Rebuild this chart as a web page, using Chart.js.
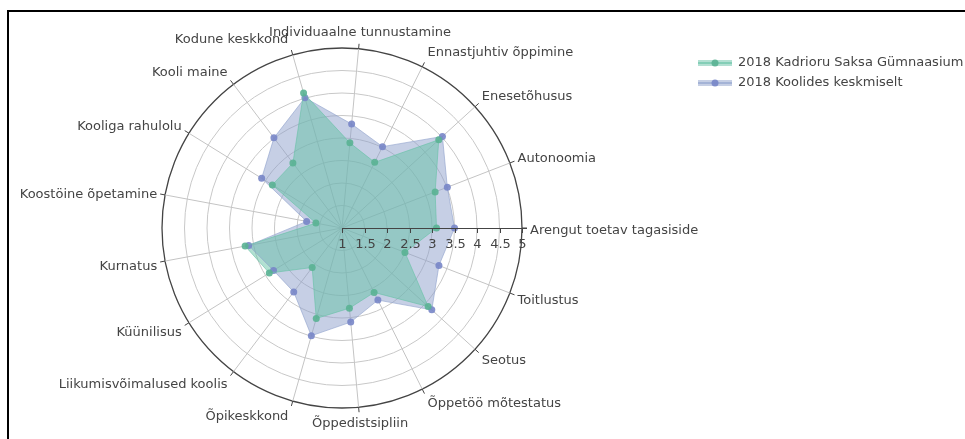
<!DOCTYPE html>
<html><head><meta charset="utf-8">
<script src="https://cdn.jsdelivr.net/npm/chart.js@4/dist/chart.umd.min.js"></script>
<style>html,body{margin:0;padding:0;background:#fff;} canvas{display:block;}</style>
</head><body>
<canvas id="c" width="965" height="439"></canvas>
<script>
// Categories in the reference order (counter-clockwise, starting at the east axis)
const categories = [
  'Arengut toetav tagasiside', 'Autonoomia', 'Enesetõhusus', 'Ennastjuhtiv õppimine',
  'Individuaalne tunnustamine', 'Kodune keskkond', 'Kooli maine', 'Kooliga rahulolu',
  'Koostöine õpetamine', 'Kurnatus', 'Küünilisus', 'Liikumisvõimalused koolis',
  'Õpikeskkond', 'Õppedistsipliin', 'Õppetöö mõtestatus', 'Seotus', 'Toitlustus'
];
const seriesNames = ['2018 Kadrioru Saksa Gümnaasium', '2018 Koolides keskmiselt'];
const schoolValues  = [3.10, 3.22, 3.91, 2.63, 2.90, 4.12, 2.81, 2.82, 1.59, 3.19, 2.90, 2.10, 3.09, 2.79, 2.60, 3.59, 2.50];
const averageValues = [3.50, 3.51, 4.02, 3.02, 3.32, 4.01, 3.51, 3.10, 1.80, 3.11, 2.79, 2.78, 3.49, 3.10, 2.79, 3.70, 3.31];
const radialTicks = ['1', '1.5', '2', '2.5', '3', '3.5', '4', '4.5', '5'];

// Chart.js goes clockwise; reorder so the drawing runs counter-clockwise like the reference
const idx = [0].concat(categories.map((_, i) => i).slice(1).reverse());
const labels = idx.map(i => categories[i]);
const school = idx.map(i => schoolValues[i]);
const average = idx.map(i => averageValues[i]);

const FONT = '13px "DejaVu Sans"';
const TXT = '#444';

const overlay = {
  id: 'overlay',
  afterDraw(chart) {
    const ctx = chart.ctx;
    const s = chart.scales.r;
    const R = s.drawingArea;
    const cx = s.xCenter, cy = s.yCenter;
    ctx.save();
    // radial axis line (east) with tick marks and labels
    ctx.strokeStyle = '#444';
    ctx.lineWidth = 1;
    ctx.beginPath();
    ctx.moveTo(cx, cy + 0.5);
    ctx.lineTo(cx + R + 5, cy + 0.5);
    ctx.stroke();
    ctx.font = FONT;
    ctx.fillStyle = TXT;
    ctx.textAlign = 'center';
    ctx.textBaseline = 'middle';
    radialTicks.forEach(t => {
      const v = parseFloat(t);
      const x = Math.round(cx + s.getDistanceFromCenterForValue(v)) + 0.5;
      ctx.beginPath();
      ctx.moveTo(x, cy);
      ctx.lineTo(x, cy + 5);
      ctx.stroke();
      ctx.fillText(t, x, cy + 17);
    });
    // outer angular ticks and category labels
    chart.data.labels.forEach((lab, i) => {
      const p0 = s.getPointPosition(i, R);
      const p = s.getPointPosition(i, R + 5);
      ctx.beginPath();
      ctx.moveTo(p0.x, p0.y);
      ctx.lineTo(p.x, p.y);
      ctx.stroke();
      const a = s.getIndexAngle(i) - Math.PI / 2;
      const c = Math.cos(a), sn = Math.sin(a);
      let x = p.x;
      if (c > 0.15) { ctx.textAlign = 'left'; x += 3; }
      else if (c < -0.15) { ctx.textAlign = 'right'; x -= 3; }
      else { ctx.textAlign = 'center'; x += 1; }
      const y = p.y + sn * 11 + 3 * (1 - Math.abs(sn));
      ctx.fillText(lab, x, y);
    });
    // legend
    ctx.textAlign = 'left';
    chart.data.datasets.forEach((ds, k) => {
      const y = 63 + k * 20;
      ctx.fillStyle = ds.backgroundColor;
      ctx.fillRect(698, y - 3, 34, 6);
      ctx.strokeStyle = ds.borderColor;
      ctx.lineWidth = 2;
      ctx.beginPath(); ctx.moveTo(698, y); ctx.lineTo(732, y); ctx.stroke();
      ctx.fillStyle = ds.pointBackgroundColor;
      ctx.beginPath(); ctx.arc(715, y, 3.5, 0, Math.PI * 2); ctx.fill();
      ctx.fillStyle = TXT;
      ctx.fillText(ds.label, 738, y);
    });
    // frame
    ctx.fillStyle = '#000';
    ctx.fillRect(7, 10, 958, 2);
    ctx.fillRect(7, 10, 2, 429);
    ctx.restore();
  }
};

new Chart(document.getElementById('c'), {
  type: 'radar',
  data: {
    labels: labels,
    datasets: [
      {
        label: seriesNames[0], data: school, order: 1,
        backgroundColor: 'rgba(102,194,165,0.5)', borderColor: 'rgba(102,194,165,0.6)',
        pointBackgroundColor: 'rgba(90,178,148,0.9)', pointBorderWidth: 0, pointRadius: 3.5,
        borderWidth: 1, fill: true
      },
      {
        label: seriesNames[1], data: average, order: 2,
        backgroundColor: 'rgba(141,160,203,0.5)', borderColor: 'rgba(141,160,203,0.6)',
        pointBackgroundColor: 'rgba(120,134,200,0.9)', pointBorderWidth: 0, pointRadius: 3.5,
        borderWidth: 1, fill: true
      }
    ]
  },
  options: {
    responsive: false,
    animation: false,
    devicePixelRatio: 1,
    layout: { padding: { left: 162, right: 443, top: 48, bottom: 31 } },
    plugins: {
      legend: { display: false }, tooltip: { enabled: false },
      filler: { drawTime: 'beforeDatasetsDraw' }
    },
    elements: { line: { tension: 0 } },
    scales: {
      r: {
        min: 1, max: 5, startAngle: 90,
        ticks: { stepSize: 0.5, display: false },
        pointLabels: { display: false },
        grid: {
          circular: true,
          color: c => (c.tick && c.tick.value === 5) ? '#444' : '#c8c8c8',
          lineWidth: c => (c.tick && c.tick.value === 5) ? 1.3 : 1
        },
        angleLines: { color: c => c.index === 0 ? 'rgba(0,0,0,0)' : '#c4c4c4', lineWidth: 1 }
      }
    }
  },
  plugins: [overlay]
});
</script>
</body></html>
